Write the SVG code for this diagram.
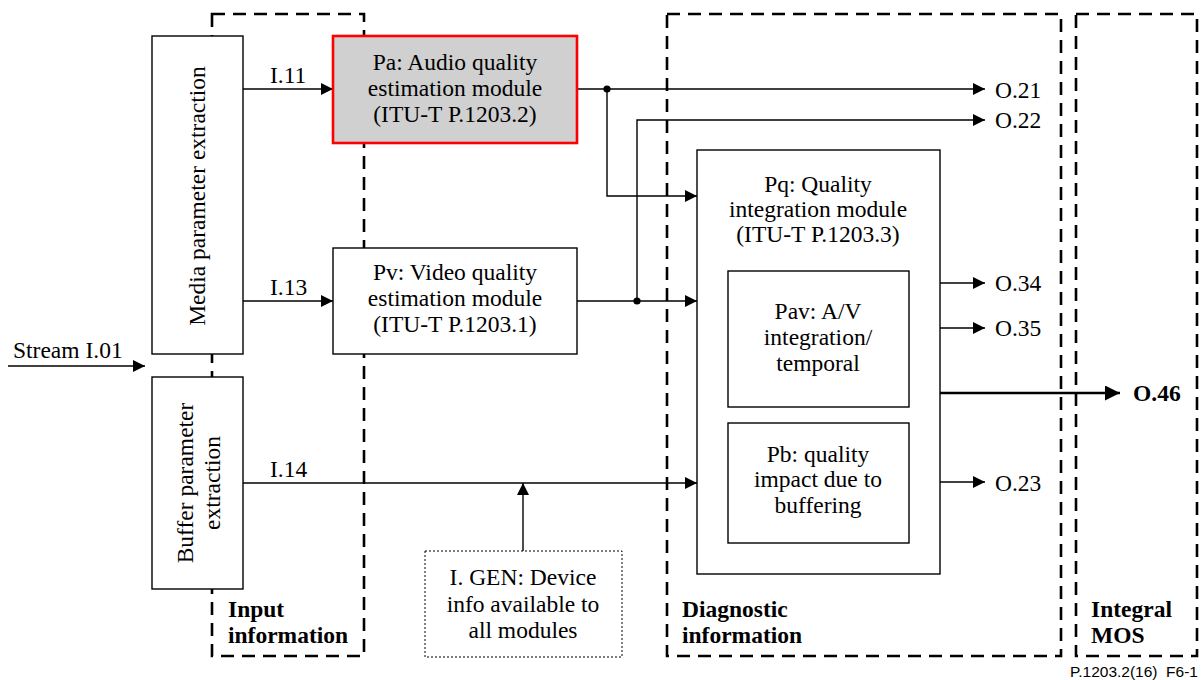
<svg xmlns="http://www.w3.org/2000/svg" width="1204" height="680" viewBox="0 0 1204 680">
<defs>
<style>
.t{font-family:"Liberation Serif","Times New Roman",serif;font-size:23.5px;fill:#000}
.c{text-anchor:middle}
.b{font-weight:bold}
.box{fill:#fff;stroke:#000;stroke-width:1.4}
.dash{fill:none;stroke:#000;stroke-width:2.6;stroke-dasharray:13 8}
.ln{fill:none;stroke:#000;stroke-width:1.4}
.foot{font-family:"Liberation Sans",Arial,sans-serif;font-size:15.5px;fill:#000;text-anchor:end;white-space:pre}
</style>
<marker id="ah" markerWidth="12" markerHeight="12" refX="12" refY="6" orient="auto" markerUnits="userSpaceOnUse">
<path d="M0,0 L12,6 L0,12 z" fill="#000"/>
</marker>
<marker id="ahb" markerWidth="15" markerHeight="15" refX="15" refY="7.5" orient="auto" markerUnits="userSpaceOnUse">
<path d="M0,0 L15,7.5 L0,15 z" fill="#000"/>
</marker>
</defs>
<rect width="1204" height="680" fill="#fff"/>

<g id="containers">
<rect id="input-info" class="dash" x="212" y="14" width="152" height="642"/>
<rect id="diag-info" class="dash" x="667" y="14" width="394" height="642"/>
<rect id="integral" class="dash" x="1076" y="14" width="121" height="642"/>
<text class="t b" x="228" y="617">Input</text>
<text class="t b" x="228" y="643">information</text>
<text class="t b" x="682" y="617">Diagnostic</text>
<text class="t b" x="682" y="643">information</text>
<text class="t b" x="1091" y="617">Integral</text>
<text class="t b" x="1091" y="643">MOS</text>
</g>

<g id="connectors">
<line class="ln" x1="8" y1="366" x2="145" y2="366" marker-end="url(#ah)"/>
<line class="ln" x1="243" y1="89" x2="333" y2="89" marker-end="url(#ah)"/>
<line class="ln" x1="243" y1="301" x2="333" y2="301" marker-end="url(#ah)"/>
<line class="ln" x1="243" y1="483" x2="697" y2="483" marker-end="url(#ah)"/>
<line class="ln" x1="577" y1="89" x2="985" y2="89" marker-end="url(#ah)"/>
<polyline class="ln" points="607,89 607,196 697,196" marker-end="url(#ah)"/>
<line class="ln" x1="577" y1="301" x2="697" y2="301" marker-end="url(#ah)"/>
<polyline class="ln" points="637,301 637,120 985,120" marker-end="url(#ah)"/>
<line class="ln" x1="523" y1="551" x2="523" y2="483" marker-end="url(#ah)"/>
<line class="ln" x1="940" y1="283" x2="985" y2="283" marker-end="url(#ah)"/>
<line class="ln" x1="940" y1="328" x2="985" y2="328" marker-end="url(#ah)"/>
<line class="ln" x1="940" y1="482" x2="985" y2="482" marker-end="url(#ah)"/>
<line fill="none" stroke="#000" stroke-width="2.6" x1="940" y1="393" x2="1120" y2="393" marker-end="url(#ahb)"/>
<circle cx="607" cy="89" r="3.6" fill="#000"/>
<circle cx="637" cy="301" r="3.6" fill="#000"/>
<text class="t" x="13" y="358">Stream I.01</text>
<text class="t" x="270" y="83">I.11</text>
<text class="t" x="270" y="295">I.13</text>
<text class="t" x="270" y="477">I.14</text>
<text class="t" x="995" y="98">O.21</text>
<text class="t" x="995" y="128">O.22</text>
<text class="t" x="995" y="291">O.34</text>
<text class="t" x="995" y="336">O.35</text>
<text class="t" x="995" y="491">O.23</text>
<text class="t b" x="1133" y="401">O.46</text>
</g>

<g id="media-extraction">
<rect class="box" x="152" y="36" width="91" height="318"/>
<text class="t c" transform="translate(205,196) rotate(-90)">Media parameter extraction</text>
</g>

<g id="buffer-extraction">
<rect class="box" x="152" y="377" width="91" height="212"/>
<text class="t c" transform="translate(193,483) rotate(-90)">Buffer parameter</text>
<text class="t c" transform="translate(220,483) rotate(-90)">extraction</text>
</g>

<g id="pa">
<rect x="333" y="36" width="244" height="107" fill="#d0d0d0" stroke="#ff0000" stroke-width="2.6"/>
<text class="t c" x="455" y="70">Pa: Audio quality</text>
<text class="t c" x="455" y="96">estimation module</text>
<text class="t c" x="455" y="122">(ITU-T P.1203.2)</text>
</g>

<g id="pv">
<rect class="box" x="333" y="248" width="244" height="106"/>
<text class="t c" x="455" y="280">Pv: Video quality</text>
<text class="t c" x="455" y="306">estimation module</text>
<text class="t c" x="455" y="332">(ITU-T P.1203.1)</text>
</g>

<g id="pq">
<rect class="box" x="697" y="150" width="243" height="424"/>
<text class="t c" x="818" y="192">Pq: Quality</text>
<text class="t c" x="818" y="217">integration module</text>
<text class="t c" x="818" y="242">(ITU-T P.1203.3)</text>
</g>

<g id="pav">
<rect class="box" x="728" y="271" width="181" height="136"/>
<text class="t c" x="818" y="319">Pav: A/V</text>
<text class="t c" x="818" y="345">integration/</text>
<text class="t c" x="818" y="371">temporal</text>
</g>

<g id="pb">
<rect class="box" x="728" y="423" width="181" height="120"/>
<text class="t c" x="818" y="462">Pb: quality</text>
<text class="t c" x="818" y="487">impact due to</text>
<text class="t c" x="818" y="513">buffering</text>
</g>

<g id="igen">
<rect x="425" y="551" width="197" height="106" fill="#fff" stroke="#000" stroke-width="1" stroke-dasharray="2 2"/>
<text class="t c" x="523" y="585">I. GEN: Device</text>
<text class="t c" x="523" y="612">info available to</text>
<text class="t c" x="523" y="638">all modules</text>
</g>

<text class="foot" x="1198" y="677">P.1203.2(16)  F6-1</text>
</svg>
